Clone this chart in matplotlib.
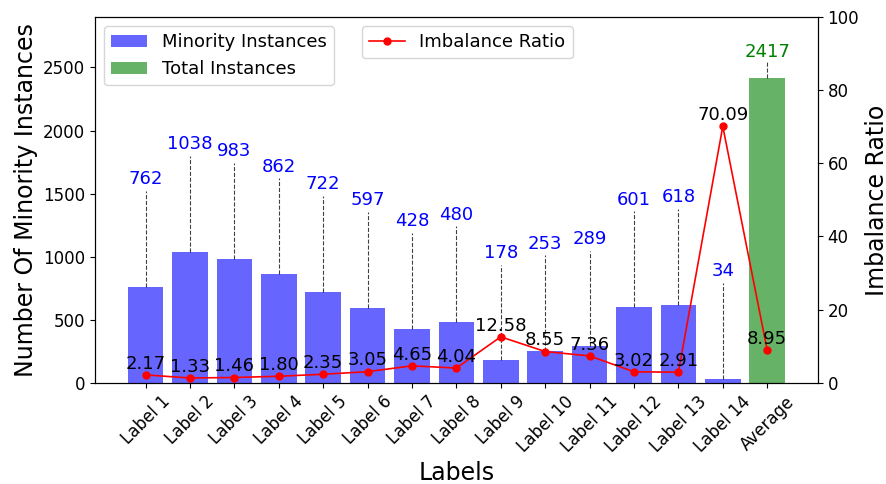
import numpy as np
import matplotlib
matplotlib.use('Agg')
import matplotlib.pyplot as plt

# Instances per label and the imbalance ratio of each label
labels = ['Label 1', 'Label 2', 'Label 3', 'Label 4', 'Label 5', 'Label 6', 'Label 7',
          'Label 8', 'Label 9', 'Label 10', 'Label 11', 'Label 12', 'Label 13', 'Label 14']
minority = [762, 1038, 983, 862, 722, 597, 428, 480, 178, 253, 289, 601, 618, 34]
total_avg = 2417
ratios = [2.17, 1.33, 1.46, 1.80, 2.35, 3.05, 4.65, 4.04, 12.58, 8.55, 7.36, 3.02, 2.91, 70.09]
ratio_avg = 8.95

all_labels = labels + ['Average']
all_ratios = ratios + [ratio_avg]
x = np.arange(len(all_labels))

fig, ax1 = plt.subplots(figsize=(8.87, 4.84), dpi=100)
fig.subplots_adjust(left=0.107, right=0.922, top=0.965, bottom=0.209)

# Bars for minority counts and the overall average
ax1.bar(x[:-1], minority, color='blue', alpha=0.6, width=0.8, label='Minority Instances')
ax1.bar(x[-1], total_avg, color='green', alpha=0.6, width=0.8, label='Total Instances')
ax1.set_ylim(0, total_avg * 1.2)

# Dashed leader lines up to the count labels
offset = 760
for xi, v in zip(x[:-1], minority):
    ax1.plot([xi, xi], [v, v + offset], color='black', linestyle='--', linewidth=0.8, alpha=0.75)
    ax1.text(xi, v + offset + 20, str(v), color='blue', ha='center', va='bottom', fontsize=13)
ax1.plot([x[-1], x[-1]], [total_avg, total_avg + 125], color='black', linestyle='--',
         linewidth=0.8, alpha=0.75)
ax1.text(x[-1], total_avg + 135, str(total_avg), color='green', ha='center', va='bottom', fontsize=13)

ax1.set_xticks(x)
ax1.set_xticklabels(all_labels, rotation=45, fontsize=12)
ax1.tick_params(axis='y', labelsize=12)
ax1.set_xlabel('Labels', fontsize=17)
ax1.set_ylabel('Number Of Minority Instances', fontsize=17)
ax1.legend(loc='upper left', fontsize=13)

# Imbalance ratio on the secondary axis
ax2 = ax1.twinx()
ax2.plot(x, all_ratios, color='red', marker='o', markersize=5, linewidth=1.2, label='Imbalance Ratio')
for xi, r in zip(x, all_ratios):
    ax2.text(xi, r + 0.6, f'{r:.2f}', color='black', ha='center', va='bottom', fontsize=13)
ax2.set_ylim(0, 100)
ax2.tick_params(axis='y', labelsize=12)
ax2.set_ylabel('Imbalance Ratio', fontsize=17)
ax2.legend(loc='upper center', bbox_to_anchor=(0.515, 1.0), fontsize=13)

plt.savefig('out.png', dpi=100)
